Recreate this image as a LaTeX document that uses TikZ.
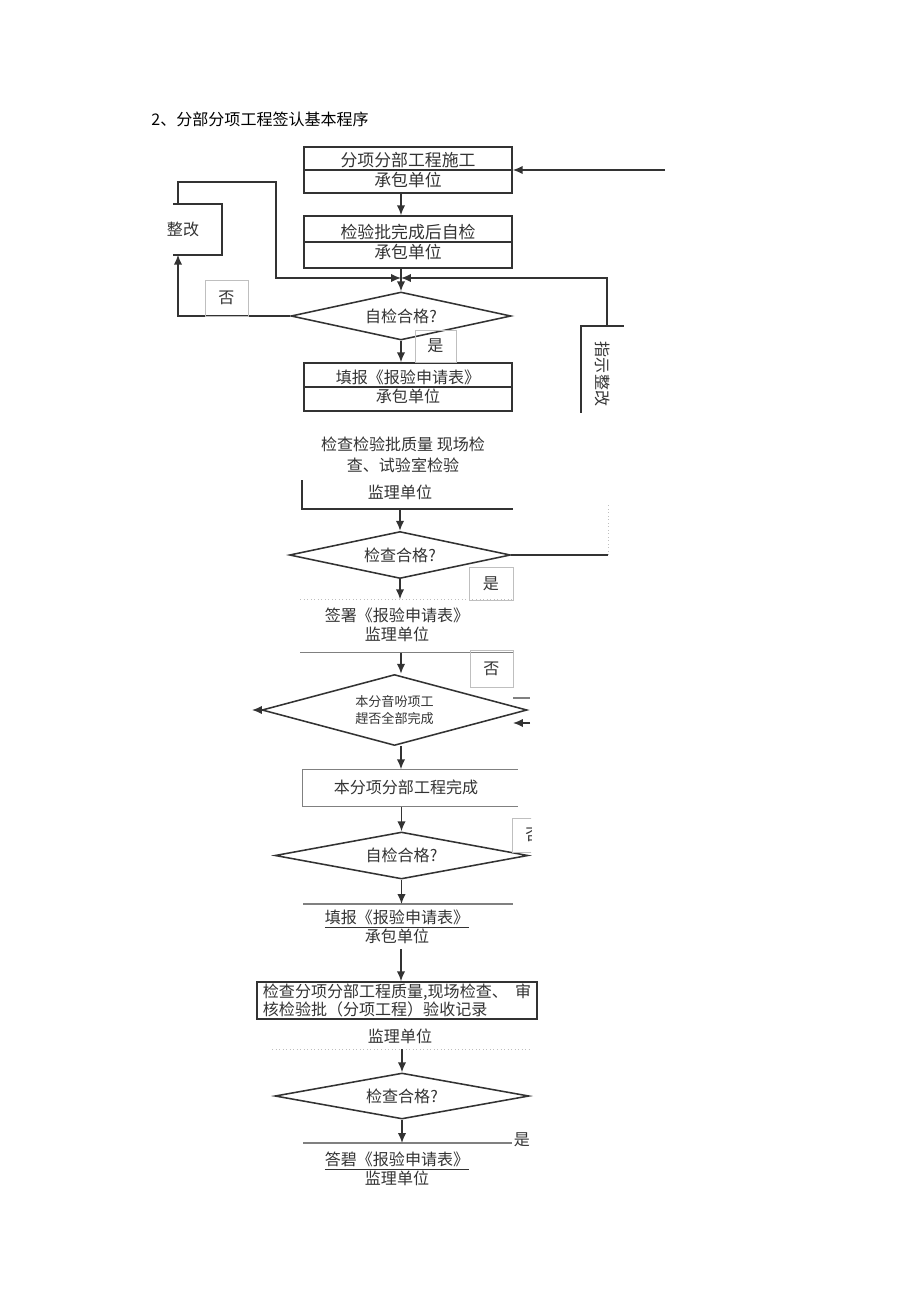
\documentclass[tikz,border=0pt]{standalone}
\usepackage{fontspec}
\setmainfont{Noto Sans CJK SC}
\usetikzlibrary{arrows.meta,shapes.geometric}
\newcommand{\pxl}{0.025cm}

\begin{document}
\begin{tikzpicture}[x=0.025cm,y=-0.025cm,line width=1.1pt,
    every node/.style={font=\fontsize{11.4}{13.4}\selectfont,text=black!80},
    arr/.style={draw=black!80,-{Latex[length=7pt,width=6pt]}},
    flow/.style={draw=black!80},
    box/.style={draw=black!80,rectangle,inner sep=0pt,align=center},
    frame/.style={rectangle,inner sep=0pt},
    tag/.style={draw=black!25,line width=0.4pt,rectangle,inner sep=0pt},
    partline/.style={draw=black!50,line width=0.8pt},
    faint/.style={draw=black!25,line width=0.5pt,dotted},
    dia/.style={draw=black!80,diamond,aspect=4,inner sep=0pt,align=center}]
        \useasboundingbox (0,0) rectangle (920,1303);

        \node[anchor=west,text=black] (title) at (146,119) {2、分部分项工程签认基本程序};

        % flow line and loop corners
        \coordinate (m1)  at (401,278);
        \coordinate (rin) at (665,170);
        \coordinate (l1)  at (178,182);
        \coordinate (l2)  at (276,182);
        \coordinate (r1)  at (607,278);
        \coordinate (r2)  at (608,555);
        \coordinate (r3)  at (608,505);

        \node[box,font=\fontsize{12}{14}\selectfont,minimum width=208*\pxl,minimum height=46*\pxl] (b1) at (408,170) {分项分部工程施工\\承包单位};
        \draw[flow] (b1.west) -- (b1.east);
        \node[box,font=\fontsize{12}{14}\selectfont,minimum width=208*\pxl,minimum height=52*\pxl] (b2) at (408,242) {检验批完成后自检\\承包单位};
        \draw[flow] (b2.west) -- (b2.east);
        \node[dia,minimum width=220*\pxl,minimum height=48*\pxl] (d1) at (401,316) {自检合格?};
        \node[box,minimum width=208*\pxl,minimum height=48*\pxl] (b3) at (408,387) {填报《报验申请表》\\承包单位};
        \draw[flow] (b3.west) -- (b3.east);

        \draw[arr] (rin) -- (b1.east);
        \draw[arr] (b1.south -| m1) -- (b2.north -| m1);
        \draw[arr] (b2.south -| m1) -- (d1.north);
        \draw[arr] (d1.south) -- (b3.north -| d1.south);

        % left loop
        \node[frame,minimum width=47*\pxl,minimum height=49*\pxl] (zg) at (197.5,229.5) {};
        \node (zgt) at (183,229) {整改};
        \draw[flow] (zg.north west) -- (zg.north east) -- (zg.south east) -- (zg.south west);
        \draw[arr] (zg.north west -| l1) -- (l1) -- (l2) -- (l2 |- m1) -- (m1);
        \draw[arr] (d1.west) -- (d1.west -| l1) -- (zg.south west -| l1);
        \node[tag,minimum width=43*\pxl,minimum height=36*\pxl] (no1) at (226.5,298) {否};
        \node[tag,minimum width=41*\pxl,minimum height=32*\pxl] (yes1) at (435.5,346) {是};

        % right loop
        \node[frame,minimum width=41*\pxl,minimum height=85*\pxl] (zs) at (602.5,369.5) {};
        \node[rotate=-90] (zst) at (603,374) {指示整改};
        \draw[flow] (zs.south west) -- (zs.north west) -- (zs.north east);
        \draw[arr] (zs.north -| r1) -- (r1) -- (m1);

        \node[align=center,font=\fontsize{11.4}{15}\selectfont] (chk1) at (403,455) {检查检验批质量\ 现场检\\查、试验室检验};
        \node[frame,minimum width=209*\pxl,minimum height=27*\pxl] (jl1) at (407.5,494.5) {};
        \node (jl1t) at (400,492) {监理单位};
        \draw[flow] (jl1.north west) -- (jl1.south west) -- (jl1.south east);

        \node[dia,minimum width=221*\pxl,minimum height=47*\pxl] (d2) at (400,555) {检查合格?};
        \draw[arr] (jl1.south -| d2.north) -- (d2.north);
        \draw[flow] (d2.east) -- (r2);
        \draw[faint] (r2) -- (r3);
        \node[tag,minimum width=44*\pxl,minimum height=33*\pxl] (yes2) at (491,583.5) {是};

        \node[frame,minimum width=212*\pxl,minimum height=52*\pxl] (qs1) at (407,626) {};
        \node[align=center] (qs1t) at (397,625) {签署《报验申请表》\\监理单位};
        \draw[faint] (qs1.north west) -- (qs1.north east);
        \draw[partline] (qs1.south west) -- (qs1.south east);
        \draw[arr] (d2.south) -- (qs1.north -| d2.south);

        % completion check
        \node[tag,minimum width=43*\pxl,minimum height=37*\pxl] (no3) at (491.5,668.5) {否};
        \node[dia,font=\fontsize{9.3}{12}\selectfont,minimum width=265*\pxl,minimum height=71*\pxl] (d3) at (394.5,710) {本分音吩项工\\趕否全部完成};
        \draw[arr] (qs1.south -| m1) -- (d3.north -| m1);
        \coordinate (lo) at (252,710);
        \draw[arr] (d3.west) -- (lo);
        \coordinate (ra) at (513,698);
        \coordinate (rb) at (530,698);
        \coordinate (rc) at (530,723);
        \coordinate (rd) at (513,723);
        \draw[partline] (ra) -- (rb);
        \draw[arr] (rc) -- (rd);

        \node[frame,minimum width=214*\pxl,minimum height=36*\pxl] (b4) at (410,788) {};
        \node (b4t) at (406,787) {本分项分部工程完成};
        \draw[partline] (b4.north east) -- (b4.north west) -- (b4.south west) -- (b4.south east);
        \draw[arr] (d3.south -| m1) -- (b4.north -| m1);

        \node[dia,minimum width=253*\pxl,minimum height=47*\pxl] (d4) at (401.5,855.5) {自检合格?};
        \draw[arr] (b4.south -| d4.north) -- (d4.north);
        \begin{scope}
            \clip (510,815) rectangle (531,856);
            \node[tag,minimum width=43*\pxl,minimum height=34*\pxl] (no4) at (533.5,835) {否};
        \end{scope}

        \coordinate (f1) at (303,904);
        \coordinate (f2) at (513,904);
        \draw[partline] (f1) -- (f2);
        \draw[arr] (d4.south) -- (d4.south |- f1);
        \node[align=center] (fb2t) at (397,927) {\underline{填报《报验申请表》}\\承包单位};

        % supervisor check
        \node[box,align=left,minimum width=280*\pxl,minimum height=37*\pxl] (b5) at (397,1000.5) {检查分项分部工程质量,现场检查、\ \ 审\\核检验批（分项工程）验收记录};
        \draw[arr] (fb2t.south -| m1) -- (b5.north -| m1);
        \node (jl2t) at (400,1036) {监理单位};
        \coordinate (g1) at (272,1049);
        \coordinate (g2) at (530,1049);
        \draw[faint] (g1) -- (g2);

        \node[dia,minimum width=254*\pxl,minimum height=46*\pxl] (d5) at (402,1096) {检查合格?};
        \draw[arr] (d5.north |- g1) -- (d5.north);
        \coordinate (h1) at (303,1143);
        \coordinate (h2) at (512,1143);
        \draw[partline] (h1) -- (h2);
        \draw[arr] (d5.south) -- (d5.south |- h1);
        \node (yes5) at (522,1140) {是};
        \node[align=center] (qs2t) at (397,1169) {\underline{答碧《报验申请表》}\\监理单位};
    \end{tikzpicture}
\end{document}
